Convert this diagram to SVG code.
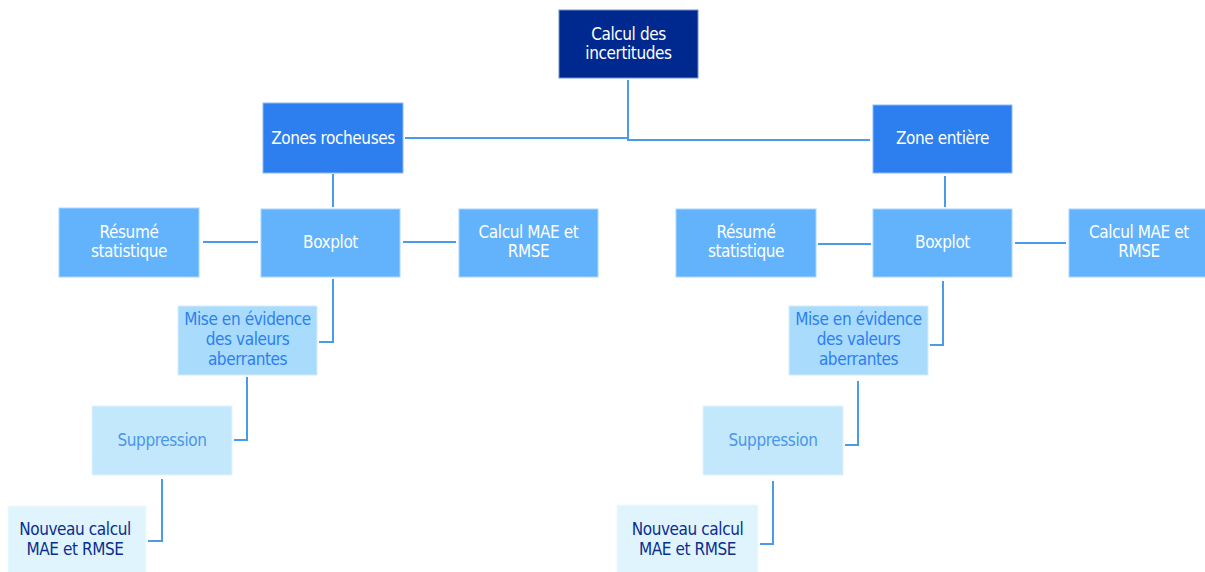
<svg xmlns="http://www.w3.org/2000/svg" width="1205" height="572" viewBox="0 0 1205 572">
<style>
text{font-family:"DejaVu Sans Condensed","DejaVu Sans",sans-serif;font-size:17px;text-anchor:middle;letter-spacing:-0.4px}
.l0 rect{fill:#00298F;stroke:#6f8fd0;stroke-width:1}
.l0 text{fill:#ffffff}
.l1 rect{fill:#2D7FF0;stroke:#8fbaf6;stroke-width:1}
.l1 text{fill:#ffffff}
.l2 rect{fill:#62B3FC;stroke:#a9d5fd;stroke-width:1}
.l2 text{fill:#ffffff}
.l3 rect{fill:#A8DBFC;stroke:#d4edfd;stroke-width:1}
.l3 text{fill:#2D7FF0}
.l4 rect{fill:#C3E8FB;stroke:#e1f4fd;stroke-width:1}
.l4 text{fill:#4A96EA}
.l5 rect{fill:#E0F4FD;stroke:#f0faff;stroke-width:1}
.l5 text{fill:#0B2E8F}
#connectors path{fill:none;stroke:#4C9BE8;stroke-width:2}
</style>
<rect width="1205" height="572" fill="#ffffff"/>
<g id="connectors">
<path d="M628 80V138H405"/>
<path d="M628 138V140H870"/>
<path d="M333 174V207"/>
<path d="M945 176V207"/>
<path d="M203 242H258"/>
<path d="M403 242H456"/>
<path d="M818 244H871"/>
<path d="M1015 243H1066"/>
<path d="M333 279V342H319"/>
<path d="M247 377V440H234"/>
<path d="M162 479V541H148"/>
<path d="M943 281V345H930"/>
<path d="M858 381V445H845"/>
<path d="M773 481V544H760"/>
</g>
<g id="root" class="l0"><rect x="559" y="10" width="139" height="68"/><text x="628.5" y="40">Calcul des</text><text x="628.5" y="59">incertitudes</text></g>
<g id="zones-rocheuses" class="l1"><rect x="263" y="103" width="140" height="70"/><text x="333" y="143.5">Zones rocheuses</text></g>
<g id="zone-entiere" class="l1"><rect x="873" y="105" width="139" height="68"/><text x="942.5" y="144">Zone entière</text></g>
<g id="resume-l" class="l2"><rect x="59" y="208" width="140" height="69"/><text x="129" y="238">Résumé</text><text x="129" y="257">statistique</text></g>
<g id="boxplot-l" class="l2"><rect x="261" y="209" width="139" height="68"/><text x="330.5" y="248">Boxplot</text></g>
<g id="mae-l" class="l2"><rect x="459" y="209" width="139" height="68"/><text x="528.5" y="238">Calcul MAE et</text><text x="528.5" y="257">RMSE</text></g>
<g id="mise-l" class="l3"><rect x="178" y="306" width="139" height="69"/><text x="247.5" y="325">Mise en évidence</text><text x="247.5" y="345">des valeurs</text><text x="247.5" y="365">aberrantes</text></g>
<g id="suppression-l" class="l4"><rect x="92" y="406" width="140" height="69"/><text x="162" y="446">Suppression</text></g>
<g id="nouveau-l" class="l5"><rect x="8" y="506" width="138" height="70"/><text x="75" y="535">Nouveau calcul</text><text x="75" y="555">MAE et RMSE</text></g>
<g id="resume-r" class="l2"><rect x="676" y="209" width="140" height="68"/><text x="746" y="238">Résumé</text><text x="746" y="257">statistique</text></g>
<g id="boxplot-r" class="l2"><rect x="873" y="209" width="139" height="68"/><text x="942.5" y="248">Boxplot</text></g>
<g id="mae-r" class="l2"><rect x="1069" y="209" width="140" height="68"/><text x="1139" y="238">Calcul MAE et</text><text x="1139" y="257">RMSE</text></g>
<g id="mise-r" class="l3"><rect x="789" y="306" width="139" height="69"/><text x="858.5" y="325">Mise en évidence</text><text x="858.5" y="345">des valeurs</text><text x="858.5" y="365">aberrantes</text></g>
<g id="suppression-r" class="l4"><rect x="703" y="406" width="140" height="69"/><text x="773" y="446">Suppression</text></g>
<g id="nouveau-r" class="l5"><rect x="617" y="505" width="141" height="71"/><text x="687.5" y="535">Nouveau calcul</text><text x="687.5" y="555">MAE et RMSE</text></g>
</svg>
